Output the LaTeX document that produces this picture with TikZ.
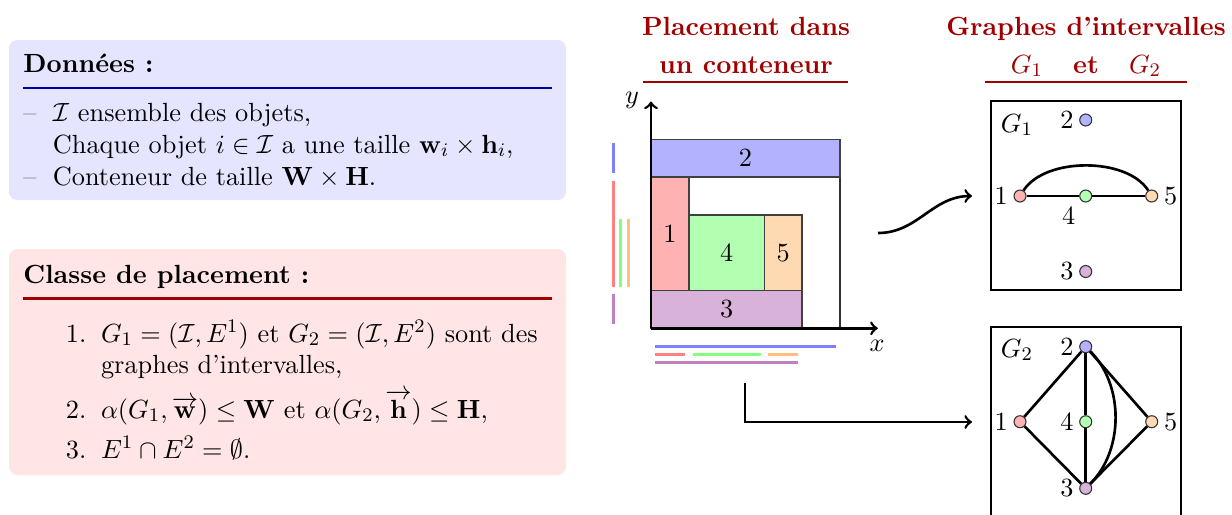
\documentclass[tikz,border=0pt]{standalone}
\usepackage{amsmath,amssymb}
\definecolor{dred}{RGB}{160,0,0}
\definecolor{dblue}{RGB}{0,0,160}
\begin{document}
\begin{tikzpicture}[x=0.416667pt,y=-0.416667pt,
  font=\fontsize{10.95}{13.6}\selectfont,
  txt/.style={anchor=base west,inner sep=0pt},
  ttl/.style={anchor=base,inner sep=0pt,text=dred,font=\fontsize{10.95}{13.6}\selectfont\bfseries},
  dashtxt/.style={anchor=base west,inner sep=0pt,text=black!60},
  rbox/.style={draw=black!75,line width=0.6pt},
  proj/.style={line width=1.25pt,shorten >=1.6pt,shorten <=1.6pt},
  axis/.style={line width=1.1pt,->},
  vtx/.style={circle,draw=black!80,line width=0.45pt,minimum size=5pt,inner sep=0pt},
  lbl/.style={inner sep=2.2pt},
  edge/.style={line width=1.1pt},
  conn/.style={line width=1.1pt,->}]
\useasboundingbox (0,0) rectangle (1232,514);

% ---------- left boxes ----------
\fill[blue!10,rounded corners=3.5pt] (9,40) rectangle (566,200);
\node[txt,font=\fontsize{10.95}{13.6}\selectfont\bfseries] (dt) at (23,72) {Données :};
\draw[dblue,line width=0.9pt] (23,88) -- (552,88);
\node[dashtxt] (dd1) at (23,121) {--};
\node[txt] (d1) at (52.5,121) {$\mathcal{I}$ ensemble des objets,};
\node[txt] (d2) at (52.5,153) {Chaque objet $i \in \mathcal{I}$ a une taille $\mathbf{w}_i \times \mathbf{h}_i$,};
\node[dashtxt] (dd3) at (23,185) {--};
\node[txt] (d3) at (52.5,185) {Conteneur de taille $\mathbf{W} \times \mathbf{H}$.};

\fill[red!10,rounded corners=3.5pt] (9,249) rectangle (566,475);
\node[txt,font=\fontsize{10.95}{13.6}\selectfont\bfseries] (ct) at (23,283) {Classe de placement :};
\draw[dred,line width=0.9pt] (23,298.5) -- (552,298.5);
\node[txt] (n1) at (65.5,342) {1.};
\node[txt] (c1) at (100.6,342) {$G_1 = (\mathcal{I},E^1)$ et $G_2=(\mathcal{I},E^2)$ sont des};
\node[txt] (c1b) at (100.6,373.5) {graphes d'intervalles,};
\node[txt] (n2) at (65.5,418) {2.};
\node[txt] (c2) at (100.6,418) {$\alpha(G_1,\overrightarrow{\mathbf{w}}) \leq \mathbf{W}$ et $\alpha(G_2,\overrightarrow{\mathbf{h}}) \leq \mathbf{H}$,};
\node[txt] (n3) at (65.5,458) {3.};
\node[txt] (c3) at (100.6,458) {$E^1 \cap E^2 = \emptyset$.};

% ---------- titles ----------
\node[ttl] (t1a) at (746,35) {Placement dans};
\node[ttl] (t1b) at (746,73) {un conteneur};
\draw[dred,line width=0.5pt] (643,82) -- (848,82);
\node[ttl] (t2a) at (1086,35) {Graphes d'intervalles};
\node[ttl] (t2b) at (1086,73) {$G_1$~~ et ~~$G_2$};
\draw[dred,line width=0.5pt] (985,82) -- (1187,82);

% ---------- packing ----------
\begin{scope}[shift={(651,328.3)},x=15.75pt,y=15.75pt]
  \draw[black!80,line width=0.5pt] (0,0) rectangle (5,5);
  \draw[rbox,fill=blue!30] (0,4) rectangle (5,5);
  \draw[rbox,fill=red!30] (0,1) rectangle (1,4);
  \draw[rbox,fill=green!30] (1,1) rectangle (3,3);
  \draw[rbox,fill=orange!30] (3,1) rectangle (4,3);
  \draw[rbox,fill=violet!30] (0,0) rectangle (4,1);
  \node (r2) at (2.5,4.5) {2};
  \node (r1) at (0.5,2.5) {1};
  \node (r4) at (2,2) {4};
  \node (r5) at (3.5,2) {5};
  \node (r3) at (2,0.5) {3};
  % projections
  \draw[proj,blue!50] (-1,4) -- (-1,5);
  \draw[proj,red!50] (-1,1) -- (-1,4);
  \draw[proj,green!50] (-0.8,1) -- (-0.8,3);
  \draw[proj,orange!50] (-0.6,1) -- (-0.6,3);
  \draw[proj,violet!50] (-1,0) -- (-1,1);
  \draw[proj,blue!50] (0,-0.49) -- (5,-0.49);
  \draw[proj,red!50] (0,-0.7) -- (1,-0.7);
  \draw[proj,green!50] (1,-0.7) -- (3,-0.7);
  \draw[proj,orange!50] (3,-0.7) -- (4,-0.7);
  \draw[proj,violet!50] (0,-0.9) -- (4,-0.9);
  % axes
  \coordinate (O) at (0,0);
  \coordinate (ytip) at (0,6);
  \coordinate (xtip) at (6,0);
  \draw[axis] (O) -- (ytip);
  \draw[axis] (O) -- (xtip);
\end{scope}
\node (ylab) at (632,100) {$y$};
\node (xlab) at (877,346) {$x$};

% ---------- arrows ----------
\coordinate (w1) at (878,233);
\coordinate (w2) at (972,196);
\draw[conn] (w1) .. controls (918,233) and (932,196) .. (w2);
\coordinate (e1) at (745,383);
\coordinate (e2) at (972,422);
\draw[conn] (e1) |- (e2);

% ---------- graph G1 ----------
\draw[line width=0.5pt] (991,101) rectangle (1181,290);
\node (g1) at (1017,125) {$G_1$};
\node[vtx,fill=red!30,label={[lbl]left:1}] (a1) at (1020,196) {};
\node[vtx,fill=blue!30,label={[lbl]left:2}] (a2) at (1085.7,120) {};
\node[vtx,fill=violet!30,label={[lbl]left:3}] (a3) at (1085.7,271.5) {};
\node[vtx,fill=green!30,label={[lbl]below left:4}] (a4) at (1085.7,196) {};
\node[vtx,fill=orange!30,label={[lbl]right:5}] (a5) at (1151.7,196) {};
\draw[edge] (a1) -- (a4);
\draw[edge] (a4) -- (a5);
\draw[edge] (a1) .. controls (1045,157) and (1127,157) .. (a5);

% ---------- graph G2 ----------
\draw[line width=0.5pt] (991,327) rectangle (1181,540);
\node (g2) at (1017,350) {$G_2$};
\node[vtx,fill=red!30,label={[lbl]left:1}] (b1) at (1020,421.7) {};
\node[vtx,fill=blue!30,label={[lbl]left:2}] (b2) at (1085.7,346.7) {};
\node[vtx,fill=violet!30,label={[lbl]left:3}] (b3) at (1085.7,488.3) {};
\node[vtx,fill=green!30,label={[lbl]left:4}] (b4) at (1085.7,421.7) {};
\node[vtx,fill=orange!30,label={[lbl]right:5}] (b5) at (1151.7,421.7) {};
\draw[edge] (b1) -- (b2);
\draw[edge] (b1) -- (b3);
\draw[edge] (b2) -- (b4);
\draw[edge] (b4) -- (b3);
\draw[edge] (b2) -- (b5);
\draw[edge] (b5) -- (b3);
\draw[edge] (b2) .. controls (1124,385) and (1124,450) .. (b3);
\end{tikzpicture}
\end{document}
